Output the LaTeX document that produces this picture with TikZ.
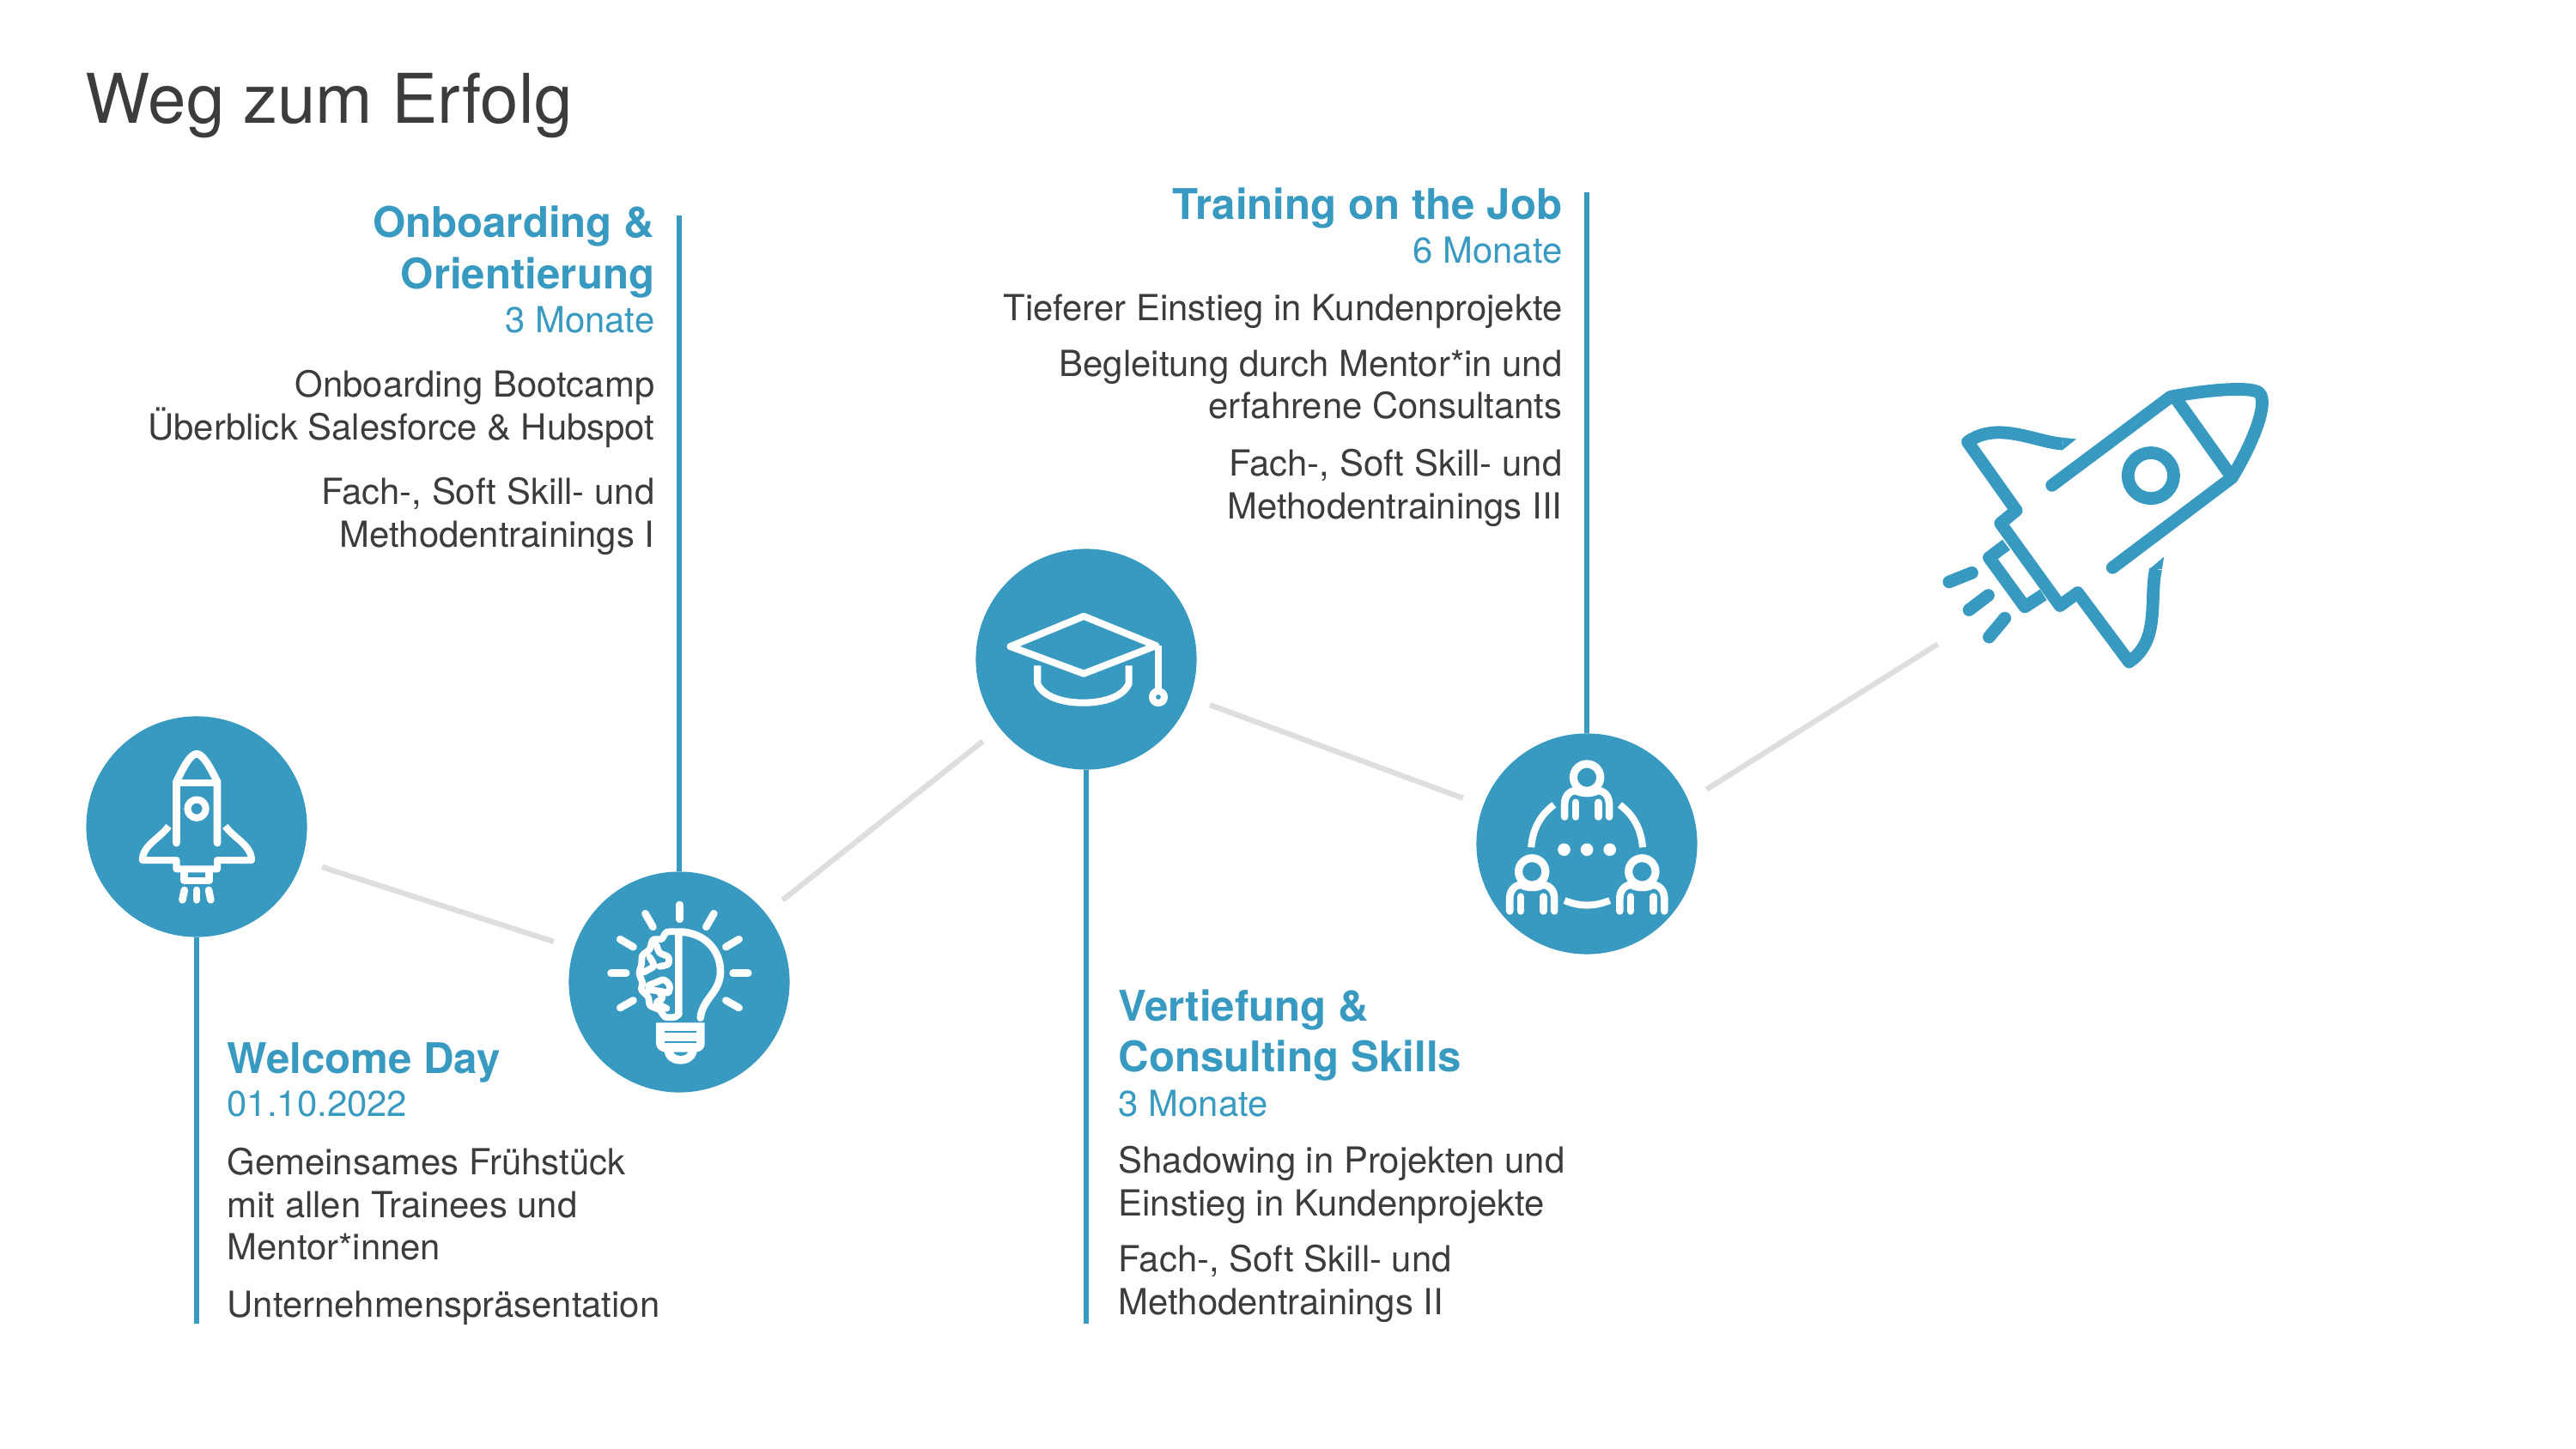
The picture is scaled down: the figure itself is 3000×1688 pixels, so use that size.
\documentclass[tikz,border=0pt]{standalone}
\usepackage{fontspec}
\setmainfont{TeX Gyre Heros}
\definecolor{routeblue}{HTML}{389AC1}
\definecolor{trailgrey}{HTML}{DEDEDE}
\definecolor{copygrey}{HTML}{3C3C3C}
\newcommand{\headtext}[1]{{\fontsize{14}{14.1}\selectfont\bfseries\color{routeblue}#1}}
\newcommand{\subtext}[1]{{\color{routeblue}#1}}
\tikzset{
  dot/.style={circle,fill=routeblue,inner sep=0pt,outer sep=0pt,minimum size=2.57cm},
  trail/.style={trailgrey,line width=1.8pt,shorten <=0.25cm,shorten >=0.25cm},
  stem/.style={routeblue,line width=1.8pt},
  copyl/.style={anchor=north west,align=left,inner sep=0pt,text=copygrey,font=\fontsize{11.9}{14.1}\selectfont},
  copyr/.style={anchor=north east,align=right,inner sep=0pt,text=copygrey,font=\fontsize{11.9}{14.1}\selectfont},
  iconline/.style={white,line width=2.45pt,line cap=round,line join=round},
  iconflat/.style={white,line width=2.3pt,line cap=butt,line join=round},
  rocketline/.style={routeblue,line width=4.2pt,line cap=round,line join=round},
  rocketflat/.style={routeblue,line width=4.2pt,line cap=butt,line join=round},
  zoomed/.style={shift={#1},x=0.003333cm,y=-0.003333cm},
  member/.pic={
    \draw [iconline,line width=2.6pt] (0,0) circle (47);
    \draw [iconline] (-78,138) -- (-78,93) .. controls (-78,58) and (-50,43) .. (-35,48) .. controls (-15,58) and (15,58) .. (35,48) .. controls (50,43) and (78,58) .. (78,93) -- (78,138);
    \draw [iconline] (-40,138) -- (-40,88);
    \draw [iconline] (40,138) -- (40,88);
  }
}
\begin{document}
\begin{tikzpicture}[x=0.01cm,y=-0.01cm]
\useasboundingbox (0,0) rectangle (3000,1688);
\node (title) [anchor=base west,inner sep=0pt,text=copygrey,font=\fontsize{22.7}{26}\selectfont] at (99,144) {Weg zum Erfolg};
\node (welcomedot) [dot] at (229,963) {};
\node (onboarddot) [dot] at (791,1144) {};
\node (capdot) [dot] at (1265,768) {};
\node (teamdot) [dot] at (1848,983) {};
\coordinate (welcomeend) at (229,1542);
\coordinate (onboardend) at (791,251);
\coordinate (capend) at (1265,1542);
\coordinate (teamend) at (1848,224);
\coordinate (rockettail) at (2278,737);
\draw [trail] (welcomedot) -- (onboarddot);
\draw [trail] (onboarddot) -- (capdot);
\draw [trail] (capdot) -- (teamdot);
\draw [trail] (teamdot.23.5) -- (rockettail);
\draw [stem] (welcomedot) -- (welcomeend);
\draw [stem] (onboarddot) -- (onboardend);
\draw [stem] (capdot) -- (capend);
\draw [stem] (teamdot) -- (teamend);
\node (welcometext) [copyl] at (264,1214) {\headtext{Welcome Day}\\[0pt]\subtext{01.10.2022}\\[5.3pt]Gemeinsames Frühstück\\mit allen Trainees und\\Mentor*innen\\[4.9pt]Unternehmenspräsentation};
\node (onboardtext) [copyr] at (763,239) {\headtext{Onboarding \&}\\[2.9pt]\headtext{Orientierung}\\[0.6pt]\subtext{3 Monate}\\[7.1pt]Onboarding Bootcamp\\Überblick Salesforce \& Hubspot\\[7.4pt]Fach-, Soft Skill- und\\Methodentrainings I};
\node (captext) [copyl] at (1302,1152) {\headtext{Vertiefung \&}\\[2.6pt]\headtext{Consulting Skills}\\[0.85pt]\subtext{3 Monate}\\[4.6pt]Shadowing in Projekten und\\Einstieg in Kundenprojekte\\[4.6pt]Fach-, Soft Skill- und\\Methodentrainings II};
\node (teamtext) [copyr] at (1820,218) {\headtext{Training on the Job}\\[0.4pt]\subtext{6 Monate}\\[4.9pt]Tieferer Einstieg in Kundenprojekte\\[4.4pt]Begleitung durch Mentor*in und\\erfahrene Consultants\\[4.9pt]Fach-, Soft Skill- und\\Methodentrainings III};
% launch icon
\begin{scope}[zoomed={(80,820)}]
\draw [iconline] (377,487) -- (377,272) .. controls (400,225) and (425,175) .. (448,175) .. controls (471,175) and (496,225) .. (520,272) -- (520,487);
\draw [iconline,line cap=butt] (377,276) -- (520,276);
\draw [iconline,line width=2.3pt] (448,367) circle (32);
\draw [iconflat] (350,428) .. controls (320,470) and (258,495) .. (258,547) -- (377,547) -- (377,578) -- (520,578) -- (520,547) -- (640,547) .. controls (640,495) and (578,470) .. (548,428);
\draw [iconline] (405,592) -- (405,619) -- (492,619) -- (492,592);
\draw [iconline] (405,652) -- (398,686);
\draw [iconline] (448,652) -- (448,686);
\draw [iconline] (490,652) -- (497,686);
\end{scope}
% idea icon
\begin{scope}[zoomed={(640,1000)}]
\foreach \ax/\ay/\bx/\by in {455/162/455/213,335/193/362/240,575/193/548/240,247/283/293/310,663/283/617/310,215/402/268/402,642/402/695/402,247/523/293/497,663/523/617/497}
  \draw [iconline] (\ax,\ay) -- (\bx,\by);
\draw [iconline] (528,558) .. controls (535,490) and (598,470) .. (598,395) .. controls (598,320) and (540,257) .. (452,257) -- (452,545);
\draw [iconline,line width=2.2pt] plot [smooth] coordinates {(452,257) (410,258) (392,282) (362,285) (350,318) (325,340) (322,370) (314,402) (325,435) (322,460) (345,485) (352,515) (385,530) (405,555) (440,555) (452,545)};
\draw [iconline,line width=2.2pt] plot [smooth] coordinates {(375,305) (385,330) (415,345) (415,370) (385,378)};
\draw [iconline,line width=2.2pt] plot [smooth] coordinates {(350,345) (365,375) (345,390) (330,398)};
\draw [iconline,line width=2.2pt] plot [smooth] coordinates {(345,445) (370,435) (400,425) (420,445) (415,470) (390,465) (345,460)};
\draw [iconline,line width=2.2pt] plot [smooth] coordinates {(385,470) (395,490) (375,505) (410,525)};
\fill [white] (373,575) -- (543,575) -- (543,650) .. controls (543,665) and (530,675) .. (515,678) .. controls (512,700) and (490,720) .. (458,720) .. controls (425,720) and (405,700) .. (402,678) .. controls (387,675) and (373,665) .. (373,650) -- cycle;
\draw [routeblue,line width=0.8pt] (403,607) -- (515,607);
\draw [routeblue,line width=0.8pt] (403,643) -- (515,643);
\fill [routeblue] (433,678) -- (485,678) .. controls (475,695) and (443,695) .. (433,678) -- cycle;
\end{scope}
% cap icon
\begin{scope}[zoomed={(1120,620)}]
\draw [iconline,line width=2.3pt] (170,400) -- (427,294) -- (680,397) -- (427,495) -- cycle;
\draw [iconline,line width=2.3pt,line cap=butt] (688,397) -- (688,552);
\draw [iconline,line width=2.3pt] (688,577) circle (21);
\draw [iconflat] (265,467) -- (265,530) .. controls (285,575) and (350,597) .. (425,597) .. controls (500,597) and (565,575) .. (585,530) -- (585,467);
\end{scope}
% team icon
\begin{scope}[zoomed={(1700,840)}]
\pic at (445,197) {member};
\pic at (253,527) {member};
\pic at (638,527) {member};
\draw [iconflat] (330,293) .. controls (280,330) and (255,380) .. (250,442);
\draw [iconflat] (560,293) .. controls (610,330) and (635,380) .. (640,442);
\draw [iconflat] (367,628) .. controls (420,650) and (470,650) .. (525,628);
\foreach \px in {365,445,525}
  \fill [white] (\px,450) circle (22);
\end{scope}
% big rocket
\begin{scope}[zoomed={(2200,400)}]
\draw [rocketline] (570,497) -- (985,187) .. controls (1100,165) and (1250,150) .. (1290,170) .. controls (1330,190) and (1290,320) .. (1200,470) -- (782,785);
\draw [rocketflat] (1005,195) -- (1190,455);
\draw [routeblue,line width=4.2pt] (916,463) circle (80);
\draw [rocketflat] (608,352) .. controls (510,345) and (380,270) .. (275,345) -- (445,585) -- (390,630) -- (598,918) -- (660,873) -- (840,1115) .. controls (950,1040) and (910,900) .. (933,790);
\fill [routeblue] (610,330) -- (655,335) -- (606,374) -- cycle;
\fill [routeblue] (911,790) -- (962,747) -- (955,790) -- cycle;
\draw [rocketflat] (410,705) -- (350,750) -- (475,922) -- (540,880);
\draw [rocketline] (210,835) -- (290,803);
\draw [rocketline] (280,933) -- (347,882);
\draw [rocketline] (350,1028) -- (405,962);
\end{scope}
\end{tikzpicture}
\end{document}
